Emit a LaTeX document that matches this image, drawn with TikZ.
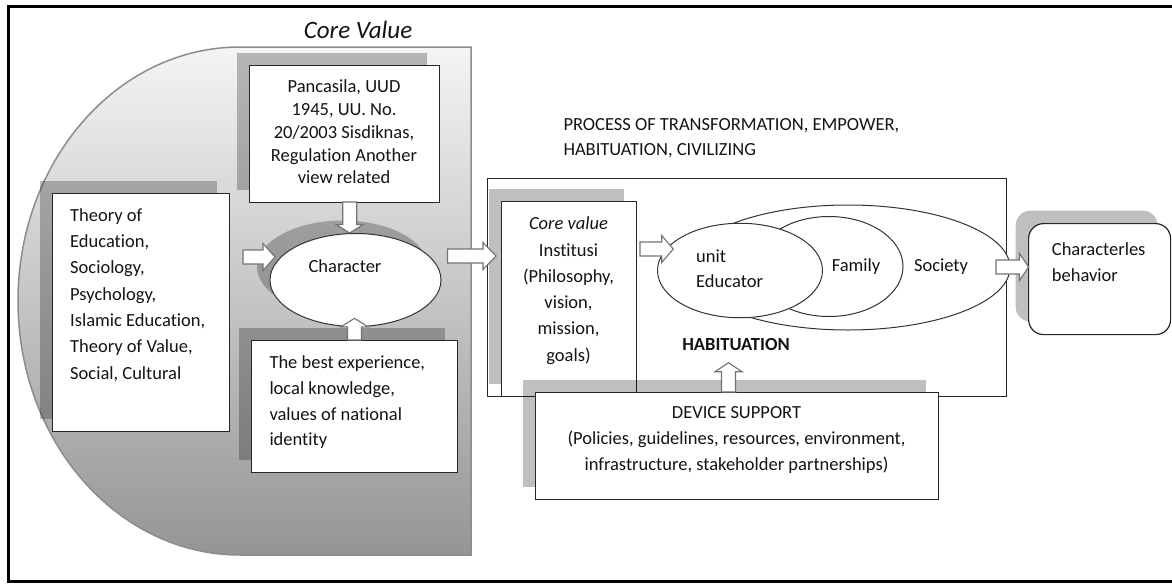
\documentclass[tikz,border=0pt]{standalone}
\usepackage{fontspec}
\setmainfont{Carlito}[Ligatures=NoCommon]
\usetikzlibrary{calc,shadows,shapes.geometric}

\definecolor{cvtop}{HTML}{F4F4F4}
\definecolor{cvmid}{HTML}{D6D6D6}
\definecolor{cvbot}{HTML}{959595}

% zero-width strut fixing the height of the first text line
\newcommand\topstrut{\rule{0pt}{15pt}}

% hollow block arrow from #2 (tail) to #3 (tip), head length #1
\newcommand\blockarrow[3][12pt]{%
  \path ($(#3)!#1!(#2)$) coordinate (ba-neck);
  \draw[hollowarrow] ($(#2)!7pt!90:(#3)$) -- ($(ba-neck)!7pt!90:(#3)$)
    -- ($(ba-neck)!13.5pt!90:(#3)$) -- (#3)
    -- ($(ba-neck)!13.5pt!-90:(#3)$) -- ($(ba-neck)!7pt!-90:(#3)$)
    -- ($(#2)!7pt!-90:(#3)$) -- cycle;}

\tikzset{
  box/.style={draw=black!85, line width=1.2pt, fill=white, inner sep=0pt, anchor=north west},
  shad/.style={general shadow={fill=black, opacity=0.25, shadow xshift=-13pt, shadow yshift=13pt}},
  oval/.style={ellipse, draw=black!80, line width=1pt, fill=white, inner sep=0pt},
  txt/.style={inner sep=0pt, text=black!92},
  hollowarrow/.style={draw=black!55, line width=1.1pt, fill=white, line join=miter},
}

\begin{document}
\begin{tikzpicture}[x=1pt, y=-1pt]
\useasboundingbox (0,0) rectangle (1172,584);

% outer frame
\draw[line width=3pt] (1172,6.5) -- (8.5,6.5) -- (8.5,581) -- (1172,581);

% core value area
\shadedraw[top color=cvtop, middle color=cvmid, bottom color=cvbot, draw=black!45, line width=1.5pt]
  (471,47) -- (240,47) arc[start angle=90, end angle=270, x radius=222pt, y radius=254pt]
  -- (471,555) -- cycle;
\node[txt, anchor=base, font=\fontsize{25}{30}\selectfont\itshape] (coretitle) at (358,38.3) {Core Value};

% sources of character
\node[box, shad, minimum width=177pt, minimum height=238pt] (theory) at (52,193) {};
\node[txt, anchor=north west, align=left, font=\fontsize{18.5}{26.3}\selectfont] (theorytxt) at (70,206)
  {\topstrut Theory of\\Education,\\Sociology,\\Psychology,\\Islamic Education,\\Theory of Value,\\Social, Cultural};

\node[box, shad, minimum width=190pt, minimum height=137pt] (pancasila) at (249,65) {};
\node[txt, anchor=north, align=center, font=\fontsize{18.5}{22.8}\selectfont] (pancasilatxt) at (344,77.5)
  {\topstrut Pancasila, UUD\\1945, UU. No.\\20/2003 Sisdiknas,\\Regulation Another\\view related};

\node[box, shad, minimum width=206pt, minimum height=132pt] (best) at (251,340) {};
\node[txt, anchor=north west, align=left, font=\fontsize{18.5}{25.9}\selectfont] (besttxt) at (269.3,353)
  {\topstrut The best experience,\\local knowledge,\\values of national\\identity};

\node[oval, shad, minimum width=171pt, minimum height=93pt] (char) at (355.5,280) {};
\node[txt, font=\fontsize{18.5}{22}\selectfont] (chartxt) at (345,266.5) {Character};

\coordinate (theory-out) at (243,257);   \coordinate (char-w) at (275,257);
\coordinate (pancasila-out) at (349.7,202); \coordinate (char-n) at (349.7,233);
\coordinate (best-out) at (354.5,340);   \coordinate (char-s) at (354.5,318.3);
\blockarrow[12pt]{theory-out}{char-w}
\blockarrow[8.5pt]{pancasila-out}{char-n}
\blockarrow[8.5pt]{best-out}{char-s}

% process of transformation
\node[txt, anchor=north west, align=left, font=\fontsize{18.5}{25}\selectfont] (processtxt) at (563.3,115)
  {\topstrut PROCESS OF TRANSFORMATION, EMPOWER,\\HABITUATION, CIVILIZING};

\node[box, line width=1pt, minimum width=519pt, minimum height=218pt] (process) at (487,178) {};

\node[box, shad, minimum width=135pt, minimum height=195pt] (inst) at (501,201) {};
\node[txt, anchor=north, align=center, font=\fontsize{18.5}{26.3}\selectfont] (insttxt) at (568.5,214.5)
  {\topstrut\textit{Core value}\\Institusi\\(Philosophy,\\vision,\\mission,\\goals)};

\coordinate (core-out) at (447.5,256); \coordinate (inst-in) at (496,256);
\blockarrow[13pt]{core-out}{inst-in}

\node[oval, minimum width=324pt, minimum height=125pt] (society) at (848,267.5) {};
\node[oval, minimum width=148pt, minimum height=100pt] (family) at (829,266.5) {};
\node[oval, minimum width=165pt, minimum height=94.5pt] (unit) at (740,270.5) {};
\node[txt, anchor=north west, align=left, font=\fontsize{18.5}{25}\selectfont] (unittxt) at (696,247)
  {\topstrut unit\\Educator};
\node[txt, anchor=base, font=\fontsize{18.5}{22}\selectfont] (familytxt) at (856,271) {Family};
\node[txt, anchor=base, font=\fontsize{18.5}{22}\selectfont] (societytxt) at (941,271) {Society};

\coordinate (inst-out) at (640,249); \coordinate (unit-in) at (673.3,249);
\blockarrow[11.6pt]{inst-out}{unit-in}

\node[txt, anchor=base, font=\fontsize{18.5}{22}\selectfont\bfseries] (habit) at (736,350) {HABITUATION};

% device support
\node[box, shad, minimum width=403pt, minimum height=107pt] (device) at (535,392) {};
\node[txt, anchor=north, align=center, font=\fontsize{18.5}{25.8}\selectfont] (devicetxt) at (736.5,403.3)
  {\topstrut DEVICE SUPPORT\\(Policies, guidelines, resources, environment,\\infrastructure, stakeholder partnerships)};

\coordinate (device-out) at (728.5,392); \coordinate (habit-in) at (728.5,362.7);
\blockarrow[9pt]{device-out}{habit-in}

% outcome
\node[box, shad, rounded corners=15pt, minimum width=142pt, minimum height=111pt] (behav) at (1028,223) {};
\node[txt, anchor=north west, align=left, font=\fontsize{18.5}{26}\selectfont] (behavtxt) at (1051.7,240.7)
  {\topstrut Characterles\\behavior};

\coordinate (society-out) at (996,267); \coordinate (behav-in) at (1028.5,267);
\blockarrow[9pt]{society-out}{behav-in}

\end{tikzpicture}
\end{document}
